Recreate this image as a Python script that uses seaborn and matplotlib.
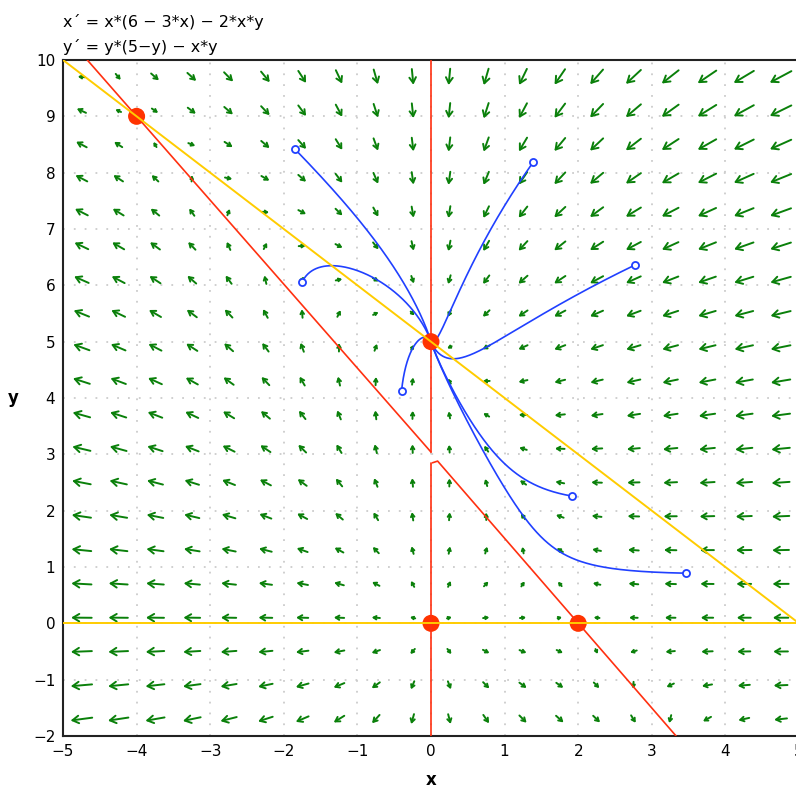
import numpy as np
import pandas as pd
import matplotlib
matplotlib.use("Agg")
import matplotlib.pyplot as plt
import seaborn as sns

# -------------------------
# System: x' = x*(a - b*x) - c*x*y ,  y' = y*(d - y) - x*y
# -------------------------
a, b, c = 6.0, 3.0, 2.0
d = 5.0

def fx(x, y):
    return x * (a - b * x) - c * x * y

def fy(x, y):
    return y * (d - y) - x * y

# starting points of the blue trajectories
start_x = [-1.85, -1.75, -0.40, 1.39, 2.77, 1.91, 3.46]
start_y = [8.42, 6.06, 4.13, 8.19, 6.36, 2.26, 0.89]

# equilibria
eq_x = [-4.0, 0.0, 0.0, 2.0]
eq_y = [9.0, 5.0, 0.0, 0.0]

# nullclines (polylines)
red_lines = [
    ([0.0, 0.0], [10.0, 3.04]),
    ([0.0, 0.0], [2.84, -2.0]),
    ([-4.67, 0.0], [10.0, 3.04]),
    ([0.02, 0.09, 3.33], [2.85, 2.88, -2.0]),
]
yellow_lines = [
    ([-5.0, 5.0], [10.0, 0.0]),
    ([-5.0, 5.0], [0.0, 0.0]),
]

# direction field grid
grid_x = np.arange(-4.75, 5.0, 0.5)
grid_y = np.arange(-1.7, 10.0, 0.6)

xticks = list(range(-5, 6))
yticks = list(range(-2, 11))

# -------------------------
# Integrate trajectories (RK4)
# -------------------------
def trajectory(x0, y0, dt=0.0005, nmax=40000):
    xs, ys = [x0], [y0]
    x, y = x0, y0
    for _ in range(nmax):
        k1x, k1y = fx(x, y), fy(x, y)
        k2x, k2y = fx(x + dt / 2 * k1x, y + dt / 2 * k1y), fy(x + dt / 2 * k1x, y + dt / 2 * k1y)
        k3x, k3y = fx(x + dt / 2 * k2x, y + dt / 2 * k2y), fy(x + dt / 2 * k2x, y + dt / 2 * k2y)
        k4x, k4y = fx(x + dt * k3x, y + dt * k3y), fy(x + dt * k3x, y + dt * k3y)
        x += dt / 6 * (k1x + 2 * k2x + 2 * k3x + k4x)
        y += dt / 6 * (k1y + 2 * k2y + 2 * k3y + k4y)
        xs.append(x)
        ys.append(y)
        if (x - 0.0) ** 2 + (y - 5.0) ** 2 < 1e-4:
            break
    return np.array(xs), np.array(ys)

# -------------------------
# Figure
# -------------------------
sns.set_style("white")
plt.rcParams["font.family"] = ["DejaVu Sans"]
plt.rcParams["text.color"] = "black"

fig = plt.figure(figsize=(7.96, 7.91), dpi=100)
ax = fig.add_axes([63 / 796, 55 / 791, 736 / 796, 676 / 791])
ax.set_xlim(-5, 5)
ax.set_ylim(-2, 10)

ax.set_xticks(xticks)
ax.set_yticks(yticks)
ax.tick_params(direction="inout", length=7, width=1.3, labelsize=11, colors="#222222",
               labelcolor="black", pad=2)
ax.grid(True, color="#cccccc", linestyle=(0, (1, 5)), linewidth=1.3)
ax.set_axisbelow(True)
for sp in ax.spines.values():
    sp.set_color("#222222")
    sp.set_linewidth(1.5)

# pixels per data unit
fig.canvas.draw()
bb = ax.get_window_extent()
sx = bb.width / 10.0
sy = bb.height / 12.0

# direction field
for gx in grid_x:
    for gy in grid_y:
        u, v = fx(gx, gy), fy(gx, gy)
        m = np.hypot(u, v)
        if m < 1e-9:
            continue
        L = 4.5 * m ** (1.0 / 3.0)
        px, py = u * sx, v * sy
        n = np.hypot(px, py)
        dx = L * px / n / sx
        dy = L * py / n / sy
        ms = float(np.clip(L * 0.5, 3, 9))
        ax.annotate("", xy=(gx + dx / 2, gy + dy / 2), xytext=(gx - dx / 2, gy - dy / 2),
                    arrowprops=dict(arrowstyle="->,head_length=0.5,head_width=0.3",
                                    color="#0a800a", lw=1.4, shrinkA=0, shrinkB=0,
                                    mutation_scale=ms),
                    zorder=2)

# trajectories
for x0, y0 in zip(start_x, start_y):
    tx, ty = trajectory(x0, y0)
    df = pd.DataFrame({"x": tx, "y": ty})
    sns.lineplot(data=df, x="x", y="y", sort=False, estimator=None, color="#2040ff",
                 lw=1.2, ax=ax, zorder=3)
ax.scatter(start_x, start_y, s=26, facecolors="white", edgecolors="#2040ff",
           linewidths=1.3, zorder=4)

# equilibria
sns.scatterplot(x=eq_x, y=eq_y, s=150, color="#ff3300", edgecolor="none", ax=ax, zorder=5)

# nullclines
for xs, ys in red_lines:
    ax.plot(xs, ys, color="#ff3010", lw=1.2, zorder=6)
for xs, ys in yellow_lines:
    ax.plot(xs, ys, color="#ffcc00", lw=1.4, zorder=6)

ax.set_xlim(-5, 5)
ax.set_ylim(-2, 10)
ax.set_xlabel("x", fontsize=12, fontweight="bold", labelpad=9, color="black")
ax.set_ylabel("y", fontsize=12, fontweight="bold", rotation=0, labelpad=14, va="center",
              color="black")

fig.text(63 / 796, 1 - 27 / 791, "x\u00b4 = x*(6 \u2212 3*x) \u2212 2*x*y", fontsize=11.5,
         va="baseline", ha="left", color="black")
fig.text(63 / 796, 1 - 52 / 791, "y\u00b4 = y*(5\u2212y) \u2212 x*y", fontsize=11.5,
         va="baseline", ha="left", color="black")

fig.savefig("out.png", dpi=100)
plt.close(fig)
